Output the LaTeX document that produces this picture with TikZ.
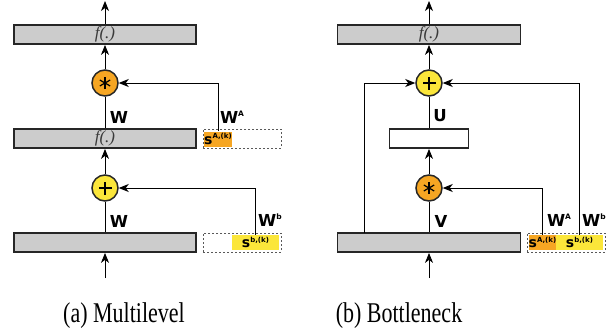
\documentclass[tikz,border=0pt]{standalone}
\usepackage{fontspec}
\setmainfont{Liberation Serif}
\setsansfont{DejaVu Sans}
\usetikzlibrary{arrows.meta}
\definecolor{boxgray}{HTML}{CCCCCC}
\definecolor{myorange}{HTML}{F6A623}
\definecolor{myyellow}{HTML}{FBE63A}
\definecolor{fgray}{HTML}{3A3A3A}
\newcommand{\hsup}[1]{\raisebox{6.5pt}{\fontsize{7.5}{7.5}\selectfont #1}}
\newcommand{\ssup}[1]{\raisebox{5.5pt}{\fontsize{7}{7}\selectfont #1}}
\begin{document}
\begin{tikzpicture}[x=1pt,y=-1pt,
 box/.style={draw=black!85,line width=1.8pt,fill=boxgray,minimum height=19pt,inner sep=0pt},
 wbox/.style={box,fill=white},
 dbox/.style={draw=black!65,dash pattern=on 2pt off 2pt,line width=0.9pt,minimum width=78pt,minimum height=19pt,inner sep=0pt},
 hl/.style={minimum height=15pt,inner sep=0pt,font=\sffamily\bfseries\fontsize{14}{14}\selectfont},
 op/.style={circle,draw=black!85,line width=1.5pt,minimum size=26pt,inner sep=0pt},
 arr/.style={line width=0.9pt,-{Stealth[length=10pt,width=8pt,inset=3pt]}},
 ln/.style={line width=0.9pt},
 sym/.style={line width=1.2pt},
 lbl/.style={font=\sffamily\bfseries\fontsize{16.5}{16.5}\selectfont,inner sep=0pt},
 fx/.style={text=fgray,font=\itshape\fontsize{17}{17}\selectfont},
 captext/.style={font=\fontsize{22}{22}\selectfont,anchor=base,inner sep=0pt}
]
\useasboundingbox (0,0) rectangle (616,335);
% ---------- left panel ----------
\node[box,minimum width=182pt,fx] (t1) at (105,34.5) {f(.)};
\node[op,fill=myorange] (m1) at (105,83) {};
\node[box,minimum width=182pt,fx] (h1) at (105,138.5) {f(.)};
\node[dbox] (d1) at (242,138.5) {};
\node[hl,fill=myorange,minimum width=26pt] (sa1) at (218,139) {s\ssup{A,(k)}};
\node[op,fill=myyellow] (p1) at (105,188) {};
\node[box,minimum width=182pt] (b1) at (105,242.5) {};
\node[dbox] (d2) at (242,242.5) {};
\node[hl,fill=myyellow,minimum width=47pt] (sb1) at (255.5,242.5) {s\ssup{b,(k)}};
\coordinate (in1) at (105,278);
\coordinate (out1) at (105,1);
\foreach \a in {90,30,-30} \draw[sym] ([shift={(\a:6)}]m1.center) -- ([shift={(\a+180:6)}]m1.center);
\foreach \a in {0,90} \draw[sym] ([shift={(\a:6.5)}]p1.center) -- ([shift={(\a+180:6.5)}]p1.center);
\draw[arr] (t1.north) -- (out1);
\draw[arr] (m1) -- (t1.south);
\draw[ln] (h1) -- (m1);
\draw[arr] (sa1.north) |- (m1);
\draw[arr] (p1) -- (h1.south);
\draw[ln] (b1) -- (p1);
\draw[arr] (sb1.north) |- (p1);
\draw[arr] (in1) -- (b1.south);
\node[lbl] (w1) at (119,117) {W};
\node[lbl] (wa1) at (232,117) {W\hsup{A}};
\node[lbl] (w2) at (119,221) {W};
\node[lbl] (wb1) at (270,220) {W\hsup{b}};
% ---------- right panel ----------
\node[box,minimum width=183pt,fx] (t2) at (429,34.5) {f(.)};
\node[op,fill=myyellow] (p2) at (429,83) {};
\node[wbox,minimum width=79pt] (u2) at (429,138.5) {};
\node[op,fill=myorange] (m2) at (429,188) {};
\node[box,minimum width=183pt] (b2) at (429,242.5) {};
\node[dbox] (d3) at (566,242.5) {};
\node[hl,fill=myorange,minimum width=27pt] (sa2) at (542.5,242.5) {s\ssup{A,(k)}};
\node[hl,fill=myyellow,minimum width=47pt] (sb2) at (579.5,242.5) {s\ssup{b,(k)}};
\coordinate (in2) at (429,278);
\coordinate (out2) at (429,1);
\coordinate (byp) at (364,233);
\foreach \a in {90,30,-30} \draw[sym] ([shift={(\a:6)}]m2.center) -- ([shift={(\a+180:6)}]m2.center);
\foreach \a in {0,90} \draw[sym] ([shift={(\a:6.5)}]p2.center) -- ([shift={(\a+180:6.5)}]p2.center);
\draw[arr] (t2.north) -- (out2);
\draw[arr] (p2) -- (t2.south);
\draw[ln] (u2) -- (p2);
\draw[arr] (m2) -- (u2.south);
\draw[ln] (b2) -- (m2);
\draw[arr] (in2) -- (b2.south);
\draw[arr] (sa2.north) |- (m2);
\draw[arr] (sb2.north) |- (p2);
\draw[arr] (byp) |- (p2);
\node[lbl] (u) at (440,116) {U};
\node[lbl] (v) at (441,221) {V};
\node[lbl] (wa2) at (559,220) {W\hsup{A}};
\node[lbl] (wb2) at (594,220) {W\hsup{b}};
% ---------- captions ----------
\node[captext] (ca) at (124,322) {\scalebox{1}[1.3]{(a) Multilevel}};
\node[captext] (cb) at (399,322) {\scalebox{1}[1.3]{(b) Bottleneck}};
\end{tikzpicture}
\end{document}
